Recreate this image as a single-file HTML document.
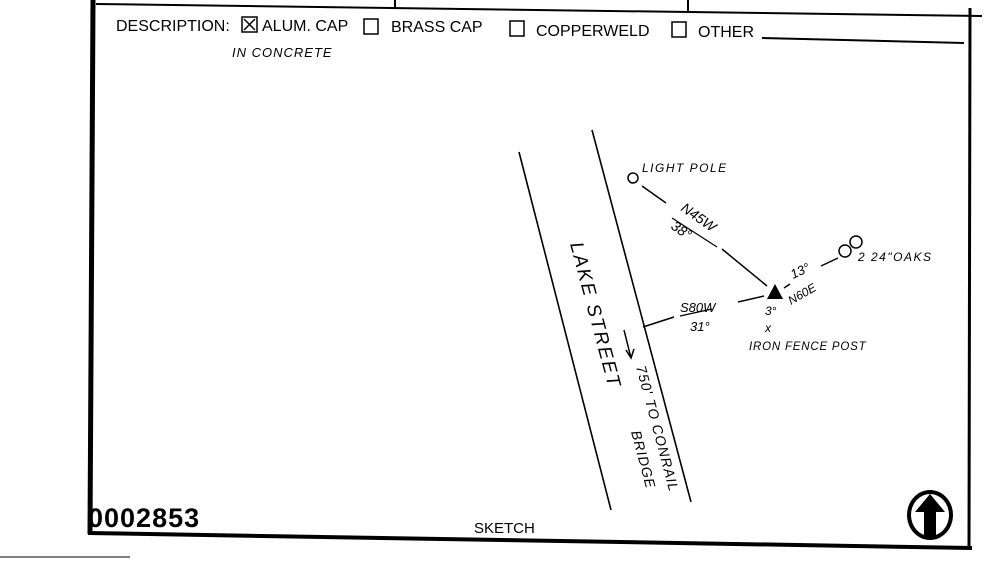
<!DOCTYPE html>
<html><head><style>
html,body{margin:0;padding:0;background:#fff;}
svg{display:block}
.h{font-family:"Liberation Sans",sans-serif;font-style:italic;fill:#000}
</style></head><body>
<svg width="999" height="568" viewBox="0 0 999 568" xmlns="http://www.w3.org/2000/svg">
<!-- frame -->
<line x1="96" y1="4" x2="982" y2="16" stroke="#000" stroke-width="2"/>
<line x1="395" y1="0" x2="395" y2="9" stroke="#000" stroke-width="2"/>
<line x1="688" y1="0" x2="688" y2="13" stroke="#000" stroke-width="2"/>
<line x1="93" y1="0" x2="90" y2="534" stroke="#000" stroke-width="5"/>
<line x1="88" y1="533" x2="972" y2="548" stroke="#000" stroke-width="4"/>
<line x1="970" y1="8" x2="969" y2="549" stroke="#000" stroke-width="3"/>
<line x1="0" y1="557" x2="130" y2="557" stroke="#555" stroke-width="1.5"/>
<!-- description -->
<g font-family="Liberation Sans, sans-serif" font-size="16" fill="#000">
<text x="116" y="31">DESCRIPTION:</text>
<rect x="242" y="17" width="15" height="15" fill="none" stroke="#000" stroke-width="1.5"/>
<path d="M244 19 L255 30 M255 19 L244 30" stroke="#000" stroke-width="1.5"/>
<text x="262" y="31">ALUM. CAP</text>
<rect x="364" y="19" width="14" height="15" fill="none" stroke="#000" stroke-width="1.5"/>
<text x="391" y="32">BRASS CAP</text>
<rect x="510" y="21" width="14" height="15" fill="none" stroke="#000" stroke-width="1.5"/>
<text x="536" y="36">COPPERWELD</text>
<rect x="672" y="22" width="14" height="15" fill="none" stroke="#000" stroke-width="1.5"/>
<text x="698" y="37">OTHER</text>
</g>
<line x1="762" y1="38" x2="964" y2="43" stroke="#000" stroke-width="2"/>
<text class="h" x="232" y="57" font-size="13" letter-spacing="1">IN CONCRETE</text>
<!-- street -->
<line x1="519" y1="152" x2="611" y2="510" stroke="#000" stroke-width="1.6"/>
<line x1="592" y1="130" x2="691" y2="502" stroke="#000" stroke-width="1.6"/>
<text class="h" font-size="19" letter-spacing="2" transform="translate(570,244) rotate(75)">LAKE STREET</text>
<path d="M624 330 L631 358 M626 350 L631 358 L634 349" stroke="#000" stroke-width="1.5" fill="none"/>
<text class="h" font-size="14" letter-spacing="1" transform="translate(636,367) rotate(75)">750' TO CONRAIL</text>
<text class="h" font-size="14" letter-spacing="1" transform="translate(631,432) rotate(75)">BRIDGE</text>
<!-- features -->
<circle cx="633" cy="178" r="5" fill="none" stroke="#000" stroke-width="1.5"/>
<text class="h" x="642" y="172" font-size="12" letter-spacing="1.5">LIGHT POLE</text>
<line x1="642" y1="186" x2="666" y2="203" stroke="#000" stroke-width="1.5"/>
<line x1="722" y1="249" x2="767" y2="286" stroke="#000" stroke-width="1.5"/>
<text class="h" font-size="14" transform="translate(680,210) rotate(35)">N45W</text>
<line x1="672" y1="218" x2="717" y2="247" stroke="#000" stroke-width="1.2"/>
<text class="h" font-size="14" transform="translate(670,228) rotate(35)">38°</text>
<polygon points="775,284 767,299 783,299" fill="#000"/>
<line x1="643" y1="327" x2="674" y2="317" stroke="#000" stroke-width="1.5"/>
<line x1="738" y1="302" x2="764" y2="296" stroke="#000" stroke-width="1.5"/>
<text class="h" x="680" y="312" font-size="13">S80W</text>
<line x1="680" y1="316" x2="712" y2="309" stroke="#000" stroke-width="1.2"/>
<text class="h" x="690" y="331" font-size="13">31°</text>
<line x1="784" y1="288" x2="790" y2="284" stroke="#000" stroke-width="1.5"/>
<line x1="821" y1="266" x2="838" y2="258" stroke="#000" stroke-width="1.5"/>
<text class="h" font-size="13" transform="translate(793,279) rotate(-25)">13°</text>
<text class="h" font-size="12" transform="translate(791,305) rotate(-30)">N60E</text>
<circle cx="845" cy="251" r="6" fill="none" stroke="#000" stroke-width="1.5"/>
<circle cx="856" cy="242" r="6" fill="none" stroke="#000" stroke-width="1.5"/>
<text class="h" x="858" y="261" font-size="12" letter-spacing="1.5">2 24"OAKS</text>
<text class="h" x="765" y="315" font-size="12">3°</text>
<text class="h" x="765" y="332" font-size="12">x</text>
<text class="h" x="749" y="350" font-size="11.5" letter-spacing="0.8">IRON FENCE POST</text>
<!-- bottom -->
<text x="88" y="527" font-family="Liberation Sans, sans-serif" font-weight="bold" font-size="27" fill="#000" letter-spacing="1">0002853</text>
<text x="474" y="533" font-family="Liberation Sans, sans-serif" font-size="15" fill="#000">SKETCH</text>
<ellipse cx="930" cy="515" rx="23" ry="25" fill="#000"/>
<ellipse cx="930" cy="515" rx="19" ry="21" fill="#fff"/>
<polygon points="930,494 945,512 936,512 936,537 924,537 924,512 915,512" fill="#000"/>
</svg>
</body></html>
